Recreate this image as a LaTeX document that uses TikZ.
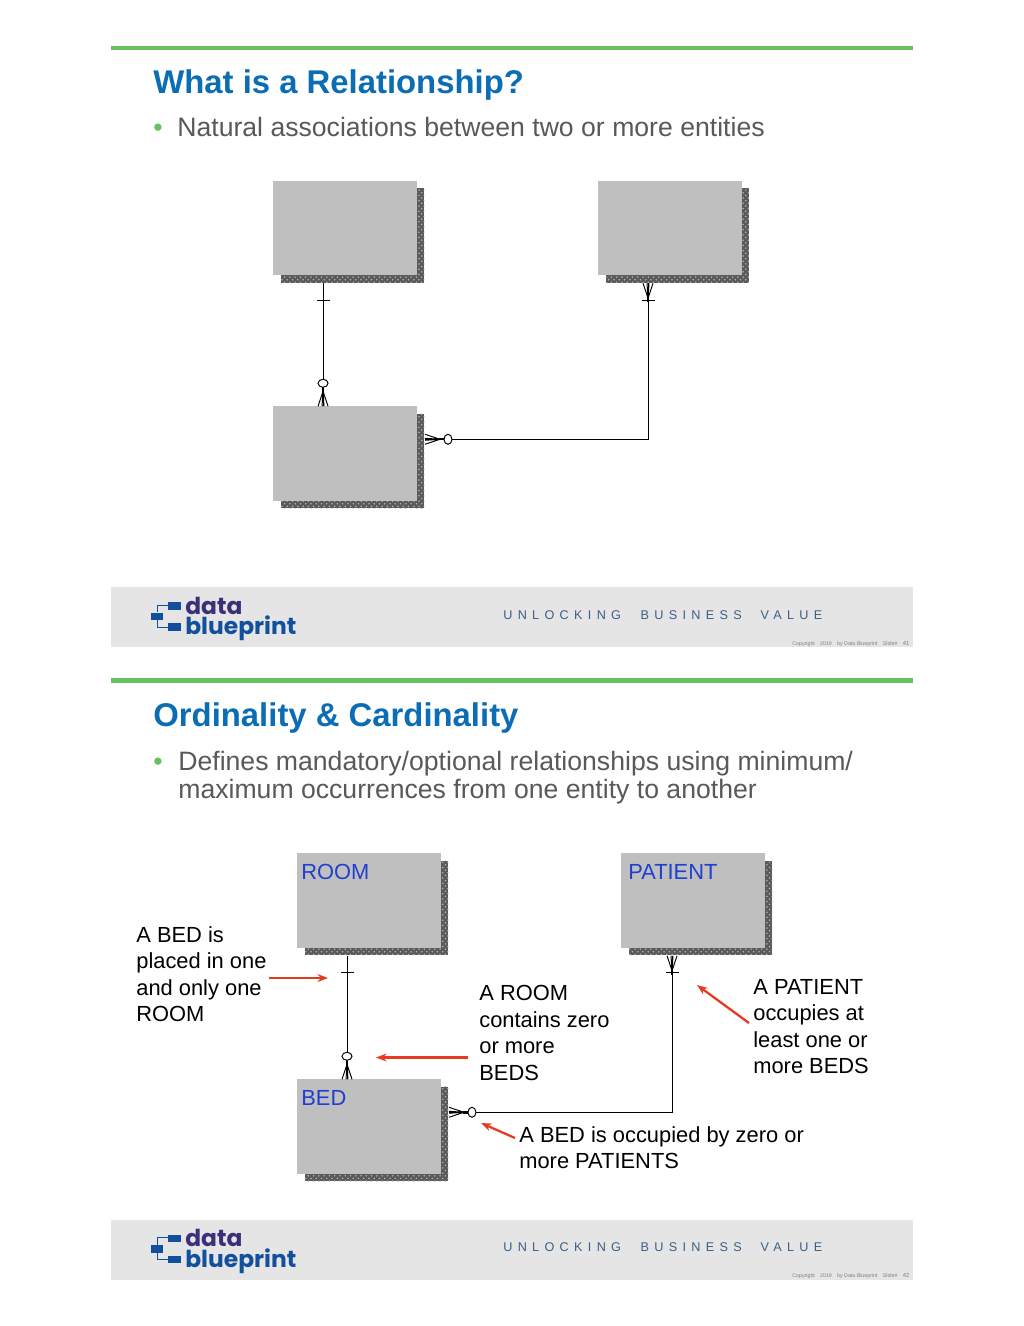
\documentclass[tikz,border=0pt]{standalone}
\usepackage{fontspec}
\setmainfont{Liberation Sans}
\newfontfamily\logofont{Poppins}
\newfontfamily\tagfont[LetterSpace=42]{Liberation Sans}
\usetikzlibrary{arrows.meta,calc,shadows,patterns}
\definecolor{c1}{HTML}{0B6DB3}
\definecolor{rulegreen}{HTML}{66C25F}
\definecolor{bodygrey}{HTML}{595959}
\definecolor{bandgrey}{HTML}{E5E5E5}
\definecolor{boxgrey}{HTML}{BFBFBF}
\definecolor{shadegrey}{HTML}{5A5A5A}
\definecolor{labelblue}{HTML}{1F3FD0}
\definecolor{notered}{HTML}{E63B1F}
\definecolor{logoblue}{HTML}{12509E}
\definecolor{logopurple}{HTML}{3A2F78}
\definecolor{tagblue}{HTML}{3D5F86}
\newcommand{\crowlines}{
  \draw[rel] (-5,0) -- (0,-15) -- (5,0) (-1,0) -- (0,-15) -- (1,0);
  \draw[line width=1.4pt] (0,-14) -- (0,-19);
}
\tikzset{
  entity/.style={rectangle, fill=boxgrey, inner sep=0pt, outer sep=0pt,
    minimum width=2.88cm, minimum height=1.89cm,
    general shadow={shadow xshift=0.15cm, shadow yshift=-0.15cm, fill=shadegrey,
      postaction={pattern=crosshatch dots, pattern color=gray!60}}},
  rel/.style={black, line width=0.55pt},
  title/.style={anchor=base west, inner sep=0pt, text=c1, font=\fontsize{18.7}{22}\selectfont\bfseries},
  body/.style={anchor=base west, inner sep=0pt, text=bodygrey, font=\fontsize{15.15}{16}\selectfont},
  bullet/.style={anchor=base, inner sep=0pt, text=rulegreen, font=\fontsize{15.15}{16}\selectfont},
  entname/.style={anchor=north west, inner sep=0pt, text=labelblue, font=\fontsize{12.45}{15}\selectfont},
  note/.style={anchor=north west, inner sep=0pt, align=left, font=\fontsize{12.45}{15.07}\selectfont},
  redarrow/.style={-{Stealth[length=6pt,width=4.5pt]}, notered, line width=1.3pt},
  crowfoot/.pic={\crowlines},
  optfoot/.pic={
    \crowlines
    \draw[rel, fill=white] (0,-23) ellipse (5 and 4);
  },
}
\begin{document}
\begin{tikzpicture}[x=0.02cm,y=-0.02cm]
  \useasboundingbox[fill=white] (0,0) rectangle (1024,1326);
  % rule, footer band and logo are the same on both slides
  \foreach \top/\num in {0/41, 632.5/42} {
    \begin{scope}[shift={(0,\top)}]
      \fill[rulegreen] (111,45.5) rectangle (913,50);
      \fill[bandgrey] (111,587) rectangle (913,647);
      \fill[logoblue] (168,602) rectangle (181,609.5);
      \fill[logoblue] (151,612.5) rectangle (163,620);
      \fill[logoblue] (168,623) rectangle (181,630.5);
      \draw[logoblue, line width=0.25pt] (157,612) -- (157,605) -- (168,605) (157,620) -- (157,627) -- (168,627);
      \node[anchor=north west, inner sep=0pt, align=left, font=\logofont\bfseries\fontsize{13.3}{10}\selectfont] (logo\num) at (185,596.5) {\textcolor{logopurple}{data}\\\textcolor{logoblue}{blueprint}};
      \node[anchor=base west, inner sep=0pt, text=tagblue, font=\tagfont\fontsize{7.2}{8}\selectfont] (tagline\num) at (503,619) {UNLOCKING\ \ \kern1.1pt BUSINESS\ \ \kern0.6pt VALUE};
      \node[anchor=base west, inner sep=0pt, text=gray, font=\fontsize{3}{3}\selectfont] (copy\num) at (792,645) {Copyright\quad 2019\quad by Data Blueprint\quad Slide\#\quad\fontsize{3.4}{3}\selectfont\num};
    \end{scope}
  }
  % first slide
  \node[title] (title1) at (153,93) {What is a Relationship?};
  \node[bullet] (dot1) at (158,136) {•};
  \node[body] (body1) at (177,136) {Natural associations between two or more entities};
  \node[entity] (ent1) at (345,228) {};
  \node[entity] (ent2) at (670,228) {};
  \node[entity] (ent3) at (345,453.5) {};
  \draw[rel] ($(ent1.south west)+(50,8)$) -- ($(ent3.north west)+(50,0)$);
  \draw[rel] ($(ent2.south west)+(50,8)$) |- ($(ent3.north east)+(8,33)$);
  \draw[rel] ($(ent1.south west)+(44,25)$) -- ++(13,0);
  \draw[rel] ($(ent2.south west)+(44,25)$) -- ++(13,0);
  \pic at ($(ent3.north west)+(50,0)$) {optfoot};
  \pic[rotate=-90] at ($(ent3.north east)+(8,33)$) {optfoot};
  \pic[rotate=180] at ($(ent2.south west)+(50,8)$) {crowfoot};
  % second slide
  \node[title] (title2) at (153,726) {Ordinality \& Cardinality};
  \node[bullet] (dot2) at (158,770) {•};
  \node[body] (body2a) at (178,770) {Defines mandatory/optional relationships using minimum/};
  \node[body] (body2b) at (178,798) {maximum occurrences from one entity to another};
  \node[entity] (room) at (369,900.5) {};
  \node[entity] (patient) at (693,900.5) {};
  \node[entity] (bed) at (369,1126.5) {};
  \node[entname] (roomname) at (301,864) {ROOM};
  \node[entname] (patientname) at (628,864) {PATIENT};
  \node[entname] (bedname) at (301,1090) {BED};
  \draw[rel] ($(room.south west)+(50,8)$) -- ($(bed.north west)+(50,0)$);
  \draw[rel] ($(patient.south west)+(51,8)$) |- ($(bed.north east)+(8,33)$);
  \draw[rel] ($(room.south west)+(44,25)$) -- ++(13,0);
  \draw[rel] ($(patient.south west)+(45,25)$) -- ++(13,0);
  \pic at ($(bed.north west)+(50,0)$) {optfoot};
  \pic[rotate=-90] at ($(bed.north east)+(8,33)$) {optfoot};
  \pic[rotate=180] at ($(patient.south west)+(51,8)$) {crowfoot};
  % the four notes and what they point at
  \node[note] (noteroom) at (136,926) {A BED is\\placed in one\\and only one\\ROOM};
  \node[note] (notebeds) at (479,985) {A ROOM\\contains zero\\or more\\BEDS};
  \node[note] (notepat) at (753,979) {A PATIENT\\occupies at\\least one or\\more BEDS};
  \node[note] (notebed) at (519,1126) {A BED is occupied by zero or\\more PATIENTS};
  \coordinate (roomtip) at (328,978);
  \coordinate (bedstip) at (376,1057.5);
  \coordinate (pattip) at (697,985);
  \coordinate (bedtip) at (481,1123);
  \draw[redarrow] (noteroom.east |- roomtip) ++(2,0) -- (roomtip);
  \draw[redarrow] (468,1057.5) -- (bedstip);
  \draw[redarrow] (749,1023) -- (pattip);
  \draw[redarrow] (515,1138) -- (bedtip);
\end{tikzpicture}
\end{document}
